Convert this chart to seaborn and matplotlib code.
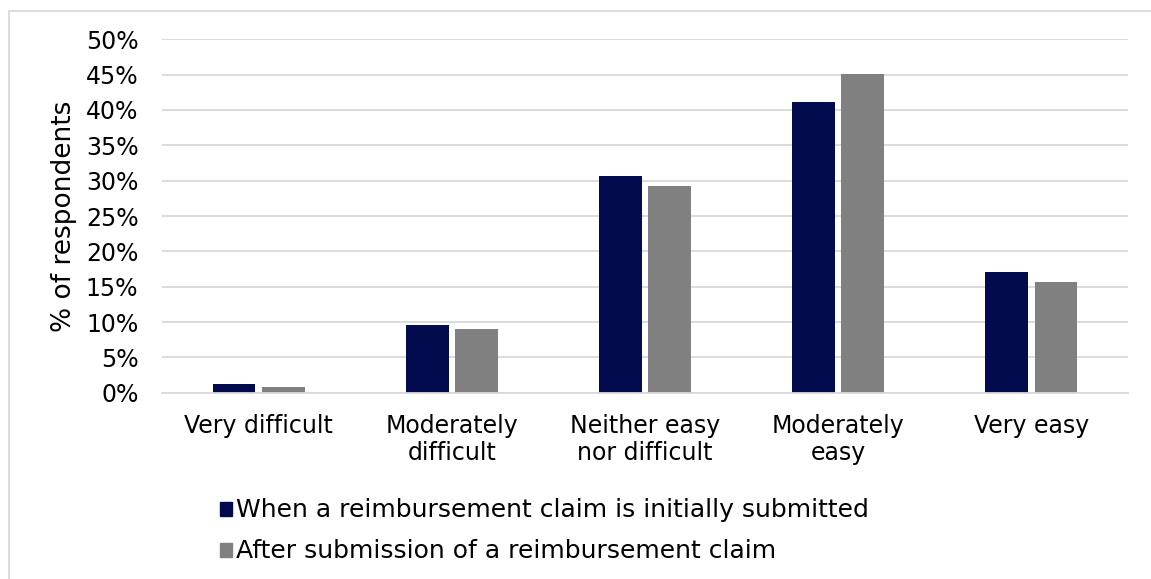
import matplotlib
matplotlib.use("Agg")
import matplotlib.pyplot as plt
import matplotlib.patches as mpatches
from matplotlib.ticker import PercentFormatter
import seaborn as sns
import pandas as pd

# valeurs (% of respondents)
categories = ["Very difficult", "Moderately\ndifficult", "Neither easy\nnor difficult",
              "Moderately\neasy", "Very easy"]
series = ["When a reimbursement claim is initially submitted",
          "After submission of a reimbursement claim"]
initially = [1.2, 9.6, 30.7, 41.1, 17.1]
after = [0.8, 9.0, 29.3, 45.1, 15.7]
yticks = [0, 5, 10, 15, 20, 25, 30, 35, 40, 45, 50]

df = pd.DataFrame({
    "category": categories * 2,
    "series": [series[0]] * len(categories) + [series[1]] * len(categories),
    "value": initially + after,
})

sns.set_style("white")
plt.rcParams["font.family"] = ["DejaVu Sans"]
plt.rcParams["text.color"] = "black"
plt.rcParams["axes.labelcolor"] = "black"

fig = plt.figure(figsize=(11.51, 5.79), dpi=100)
ax = fig.add_axes([162 / 1151, 1 - 392.7 / 579, (1128 - 162) / 1151, (392.7 - 39.3) / 579])

sns.barplot(data=df, x="category", y="value", hue="series", order=categories,
            hue_order=series, palette=["#020B4E", "#808080"], width=0.51, gap=0.13,
            saturation=1, linewidth=0, ax=ax, legend=False)

ax.set_ylim(0, 50)
ax.set_yticks(yticks)
ax.yaxis.set_major_formatter(PercentFormatter(decimals=0))
ax.set_xlim(-0.5, len(categories) - 0.5)
ax.grid(axis="y", color="#D9D9D9", linewidth=1.3)
ax.set_axisbelow(True)
for s in ["top", "right", "left"]:
    ax.spines[s].set_visible(False)
ax.spines["bottom"].set_color("#D9D9D9")
ax.spines["bottom"].set_linewidth(1.3)
ax.tick_params(axis="both", length=0, labelsize=17, colors="black")
ax.tick_params(axis="x", pad=15)
ax.tick_params(axis="y", pad=17)
ax.set_xlabel("")
ax.set_ylabel("% of respondents", fontsize=19, labelpad=6)

handles = [mpatches.Patch(color=c) for c in ["#020B4E", "#808080"]]
fig.legend(handles, series, loc="upper left", bbox_to_anchor=(197 / 1151, 1 - 476 / 579),
           frameon=False, fontsize=18, handlelength=0.5, handleheight=0.5,
           handletextpad=0.15, labelspacing=0.68)

# cadre gris clair autour de la figure
fig.patches.append(mpatches.Rectangle((9 / 1151, -0.1), 1.2, 1.1 - 10.5 / 579,
                                      transform=fig.transFigure, fill=False,
                                      edgecolor="#D9D9D9", linewidth=1.3))

fig.savefig("out.png", dpi=100)
